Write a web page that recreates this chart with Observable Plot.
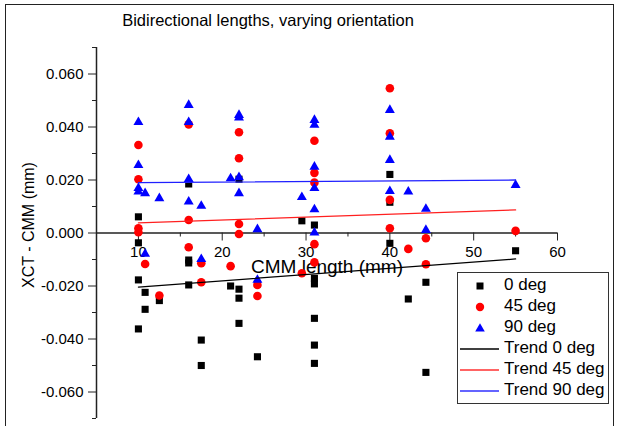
<!DOCTYPE html>
<html><head><meta charset="utf-8">
<script src="https://cdn.jsdelivr.net/npm/d3@7"></script>
<script src="https://cdn.jsdelivr.net/npm/@observablehq/plot@0.6"></script>
<style>
body{margin:0;background:#fff;font-family:"Liberation Sans",Arial,sans-serif;}
#wrap{position:relative;width:617px;height:426px;overflow:hidden;}
#chart{position:absolute;left:0;top:0;}
#border{position:absolute;left:5px;top:4px;width:607px;height:440px;border:1.5px solid #222;pointer-events:none;}
#title{position:absolute;left:0;width:536px;top:11px;text-align:center;font-size:16.5px;color:#000;}
#legend{position:absolute;left:457px;top:272px;width:150px;height:130px;border:1px solid #333;background:#fff;}
.row{position:absolute;left:0;width:150px;height:20px;}
.row svg{position:absolute;left:0;top:0;}
.row span{position:absolute;left:46px;top:-1px;font-size:17px;line-height:20px;color:#000;white-space:nowrap;}
</style></head><body>
<div id="wrap"><div id="chart"></div><div id="border"></div><div id="title">Bidirectional lengths, varying orientation</div><div id="legend"></div></div>
<script>
// ---- data (CMM length in mm, XCT - CMM in mm) ----
const deg0 = [
  [10,0.0061],[10,-0.0037],[10,-0.0177],[10,-0.0362],[10.8,-0.0224],[10.8,-0.0288],[12.5,-0.0255],
  [16,0.0185],[16,-0.0102],[16,-0.0113],[16,-0.0196],[17.5,-0.0404],[17.5,-0.0500],
  [21,-0.0200],[22,0.0203],[22,-0.0212],[22,-0.0246],[22,-0.0341],[24.2,-0.0192],[24.2,-0.0467],
  [29.5,0.0046],[31,0.0030],[31,-0.0171],[31,-0.0192],[31,-0.0322],[31,-0.0423],[31,-0.0492],
  [40,0.0221],[40,0.0116],[40,-0.0039],[42.2,-0.0249],[44.3,-0.0186],[44.3,-0.0526],[55,-0.0067]
];
const deg45 = [
  [10,0.0332],[10,0.0203],[10,0.0018],[10,0.0003],[10.8,-0.0117],[12.5,-0.0236],
  [16,0.0410],[16,0.0049],[16,-0.0054],[17.5,-0.0114],[17.5,-0.0186],
  [21,-0.0125],[22,0.0380],[22,0.0282],[22,0.0034],[22,-0.0004],[24.2,-0.0196],[24.2,-0.0238],
  [29.5,-0.0152],[31,0.0348],[31,0.0227],[31,0.0190],[31,-0.0042],[31,-0.0111],
  [40,0.0546],[40,0.0376],[40,0.0125],[40,0.0018],[42.2,-0.0060],[44.3,-0.0020],[44.3,-0.0118],[55,0.0008]
];
const deg90 = [
  [10,0.0418],[10,0.0256],[10,0.0169],[10,0.0156],[10.8,0.0150],[10.8,-0.0079],[12.5,0.0131],
  [16,0.0483],[16,0.0418],[16,0.0203],[16,0.0118],[17.5,0.0102],[17.5,-0.0099],
  [21,0.0206],[22,0.0445],[22,0.0435],[22,0.0210],[22,0.0150],[24.2,0.0014],[24.2,-0.0177],
  [29.5,0.0135],[31,0.0426],[31,0.0408],[31,0.0250],[31,0.0169],[31,0.0089],[31,0.0001],
  [40,0.0464],[40,0.0363],[40,0.0275],[40,0.0158],[42.2,0.0156],[44.3,0.0091],[44.3,0.0011],[55,0.0181]
];
const trendX = [10, 55];
const trend0 = [-0.0204, -0.0098];
const trend45 = [0.0038, 0.0087];
const trend90 = [0.0190, 0.0200];

const xMajor = [10, 20, 30, 40, 50, 60];
const xMinor = [15, 25, 35, 45, 55];
const yMajor = [-0.06, -0.04, -0.02, 0, 0.02, 0.04, 0.06];
const yMinor = [-0.07, -0.05, -0.03, -0.01, 0.01, 0.03, 0.05, 0.07];
const xDomain = [5, 60];
const yDomain = [-0.07, 0.07];

const legendLabels = ["0 deg", "45 deg", "90 deg", "Trend 0 deg", "Trend 45 deg", "Trend 90 deg"];
const legendKinds = ["square", "circle", "triangle", "line", "line", "line"];
const legendColors = ["#000000", "#ff0000", "#0000ff", "#000000", "#ff3030", "#3030ff"];

// ---- layout ----
const W = 617, H = 426, mL = 96, mR = 60, mT = 47, mB = 8;
const pxPerY = (H - mT - mB) / (yDomain[1] - yDomain[0]);
const tickMaj = 8 / pxPerY, tickMin = 4 / pxPerY;
const fmt = d => (d < 0 ? "-" : "") + Math.abs(d).toFixed(3);
const trendData = (ys) => trendX.map((x, i) => ({x, y: ys[i]}));

const chart = Plot.plot({
  width: W, height: H,
  marginLeft: mL, marginRight: mR, marginTop: mT, marginBottom: mB,
  style: {fontFamily: "'Liberation Sans', Arial, sans-serif", color: "#000", background: "transparent"},
  x: {domain: xDomain, axis: null},
  y: {domain: yDomain, label: null},
  marks: [
    Plot.ruleX([xDomain[0]], {stroke: "#222", strokeWidth: 1.5}),
    Plot.axisY(yMajor, {tickSize: 8, tickPadding: 5, tickFormat: fmt, fontSize: 15, label: null, stroke: "#222"}),
    Plot.axisY(yMinor, {tickSize: 4, tickFormat: () => "", label: null, stroke: "#222"}),
    Plot.ruleY([0], {stroke: "#222", strokeWidth: 1.5}),
    Plot.ruleX(xMajor, {x: d => d, y1: 0, y2: -tickMaj, stroke: "#222"}),
    Plot.ruleX(xMinor, {x: d => d, y1: 0, y2: -tickMin, stroke: "#222"}),
    Plot.text(xMajor, {x: d => d, y: 0, dy: 19, text: d => String(d), fontSize: 15, fill: "#000"}),
    Plot.text(["CMM length (mm)"], {frameAnchor: "middle", dy: 34, text: d => d, fontSize: 19, fill: "#000"}),
    Plot.text(["XCT - CMM (mm)"], {frameAnchor: "left", textAnchor: "middle", dx: -68, dy: -8, rotate: -90, text: d => d, fontSize: 16, fill: "#000"}),
    Plot.dot(deg0, {x: d => d[0], y: d => d[1], symbol: "square", fill: "#000000", r: 4}),
    Plot.dot(deg45, {x: d => d[0], y: d => d[1], symbol: "circle", fill: "#ff0000", r: 4.3}),
    Plot.dot(deg90, {x: d => d[0], y: d => d[1], symbol: "triangle", fill: "#0000ff", r: 3.7}),
    Plot.line(trendData(trend0), {x: "x", y: "y", stroke: "#000000", strokeWidth: 1.3}),
    Plot.line(trendData(trend45), {x: "x", y: "y", stroke: "#ff2020", strokeWidth: 1.3}),
    Plot.line(trendData(trend90), {x: "x", y: "y", stroke: "#2020ff", strokeWidth: 1.3})
  ]
});
document.getElementById("chart").appendChild(chart);

// ---- legend ----
const legend = document.getElementById("legend");
const ns = "http://www.w3.org/2000/svg";
legendLabels.forEach((lab, i) => {
  const row = document.createElement("div");
  row.className = "row";
  row.style.top = (3 + i * 21) + "px";
  const svg = document.createElementNS(ns, "svg");
  svg.setAttribute("width", 45); svg.setAttribute("height", 20);
  const k = legendKinds[i], c = legendColors[i];
  let el;
  if (k === "square") {
    el = document.createElementNS(ns, "rect");
    el.setAttribute("x", 18.5); el.setAttribute("y", 6.5); el.setAttribute("width", 7); el.setAttribute("height", 7);
    el.setAttribute("fill", c);
  } else if (k === "circle") {
    el = document.createElementNS(ns, "circle");
    el.setAttribute("cx", 22); el.setAttribute("cy", 10); el.setAttribute("r", 4.2);
    el.setAttribute("fill", c);
  } else if (k === "triangle") {
    el = document.createElementNS(ns, "path");
    el.setAttribute("d", "M22,5.2L26.8,13.6L17.2,13.6Z");
    el.setAttribute("fill", c);
  } else {
    el = document.createElementNS(ns, "line");
    el.setAttribute("x1", 2); el.setAttribute("x2", 41); el.setAttribute("y1", 10); el.setAttribute("y2", 10);
    el.setAttribute("stroke", c); el.setAttribute("stroke-width", 1.3);
  }
  svg.appendChild(el);
  row.appendChild(svg);
  const sp = document.createElement("span");
  sp.textContent = lab;
  row.appendChild(sp);
  legend.appendChild(row);
});
</script>
</body></html>
